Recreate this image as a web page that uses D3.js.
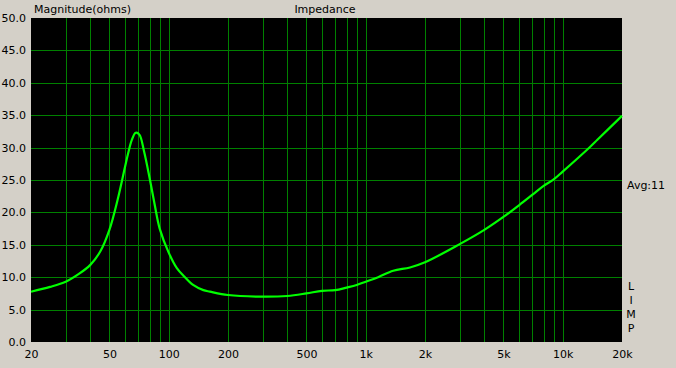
<!DOCTYPE html>
<html>
<head>
<meta charset="utf-8">
<script src="https://cdn.jsdelivr.net/npm/d3@7"></script>
<style>
  html, body { margin: 0; padding: 0; background: #d4d0c8; }
  svg { display: block; font-family: "DejaVu Sans", sans-serif; font-size: 11px; }
</style>
</head>
<body>
<svg id="chart" width="676" height="368"></svg>
<script>
// impedance sweep
var freqs = [20, 25, 30, 35, 40, 45, 50, 55, 60, 62, 65, 68, 71, 75, 80, 85, 90, 100, 110, 120, 133, 150, 162,
             200, 300, 400, 500, 600, 700, 800, 900, 1000, 1156, 1380, 1678, 2000, 3000, 4000, 5000,
             6000, 7000, 8000, 9000, 10000, 13760, 15000, 20000];
var ohms  = [7.76, 8.5, 9.3, 10.5, 11.9, 14.0, 17.3, 21.9, 27.0, 28.9, 31.2, 32.3, 32.0, 29.4, 25.3, 21.1, 17.5, 13.8, 11.4, 10.1, 8.8, 8.0, 7.77,
             7.25, 6.99, 7.1, 7.5, 7.9, 8.0, 8.4, 8.8, 9.3, 10.0, 11.0, 11.5, 12.3, 15.1, 17.3, 19.3,
             21.1, 22.7, 24.1, 25.1, 26.3, 30.1, 31.2, 34.9];

var xGrid   = [30, 40, 50, 60, 70, 80, 90, 100, 200, 300, 400, 500, 600, 700, 800, 900, 1000,
               2000, 3000, 4000, 5000, 6000, 7000, 8000, 9000, 10000];
var xLabels = [20, 50, 100, 200, 500, 1000, 2000, 5000, 10000, 20000];
var yTicks  = [0, 5, 10, 15, 20, 25, 30, 35, 40, 45, 50];
var sideLetters = ["L", "I", "M", "P"];

var plotL = 31, plotR = 622, plotT = 18, plotB = 342;

var svg = d3.select("#chart");
var x = d3.scaleLog().domain([20, 20000]).range([plotL, plotR]);
var y = d3.scaleLinear().domain([0, 50]).range([plotB, plotT]);

svg.append("rect")
  .attr("x", plotL).attr("y", plotT)
  .attr("width", plotR - plotL).attr("height", plotB - plotT)
  .attr("fill", "#000");

var grid = svg.append("g").attr("stroke", "#008000").attr("stroke-width", 1);

grid.selectAll(".vg").data(xGrid).enter().append("line")
  .attr("class", "vg")
  .attr("x1", function(d) { return Math.round(x(d)) + 0.5; })
  .attr("x2", function(d) { return Math.round(x(d)) + 0.5; })
  .attr("y1", plotT).attr("y2", plotB);

grid.selectAll(".hg").data(yTicks.slice(1, -1)).enter().append("line")
  .attr("class", "hg")
  .attr("y1", function(d) { return Math.round(y(d)) + 0.5; })
  .attr("y2", function(d) { return Math.round(y(d)) + 0.5; })
  .attr("x1", plotL).attr("x2", plotR);

var pts = freqs.map(function(f, i) { return [f, ohms[i]]; });
var line = d3.line()
  .x(function(d) { return x(d[0]); })
  .y(function(d) { return y(d[1]); })
  .curve(d3.curveCatmullRom.alpha(0.5));

svg.append("path")
  .datum(pts)
  .attr("d", line)
  .attr("fill", "none")
  .attr("stroke", "#00ff00")
  .attr("stroke-width", 2.2)
  .attr("stroke-linejoin", "round");

// axes, text only
var fmtHz = function(d) { return d >= 1000 ? (d / 1000) + "k" : String(d); };

var xAxis = svg.append("g")
  .attr("transform", "translate(0," + (plotB + 3) + ")")
  .call(d3.axisBottom(x).tickValues(xLabels).tickFormat(fmtHz).tickSize(0).tickPadding(5));

var yAxis = svg.append("g")
  .attr("transform", "translate(" + (plotL - 3) + ",0)")
  .call(d3.axisLeft(y).tickValues(yTicks).tickFormat(d3.format(".1f")).tickSize(0).tickPadding(2));

[xAxis, yAxis].forEach(function(a) {
  a.select(".domain").remove();
  a.selectAll("text")
    .attr("fill", "#000")
    .style("font-family", "'DejaVu Sans', sans-serif")
    .style("font-size", "11px");
});

svg.append("text")
  .attr("x", 34).attr("y", 13)
  .text("Magnitude(ohms)");

svg.append("text")
  .attr("x", 325).attr("y", 13)
  .attr("text-anchor", "middle")
  .text("Impedance");

svg.append("text")
  .attr("x", 627).attr("y", 189)
  .text("Avg:11");

svg.selectAll(".limp").data(sideLetters).enter().append("text")
  .attr("class", "limp")
  .attr("x", 631)
  .attr("y", function(d, i) { return 290 + i * 14; })
  .attr("text-anchor", "middle")
  .text(function(d) { return d; });
</script>
</body>
</html>
